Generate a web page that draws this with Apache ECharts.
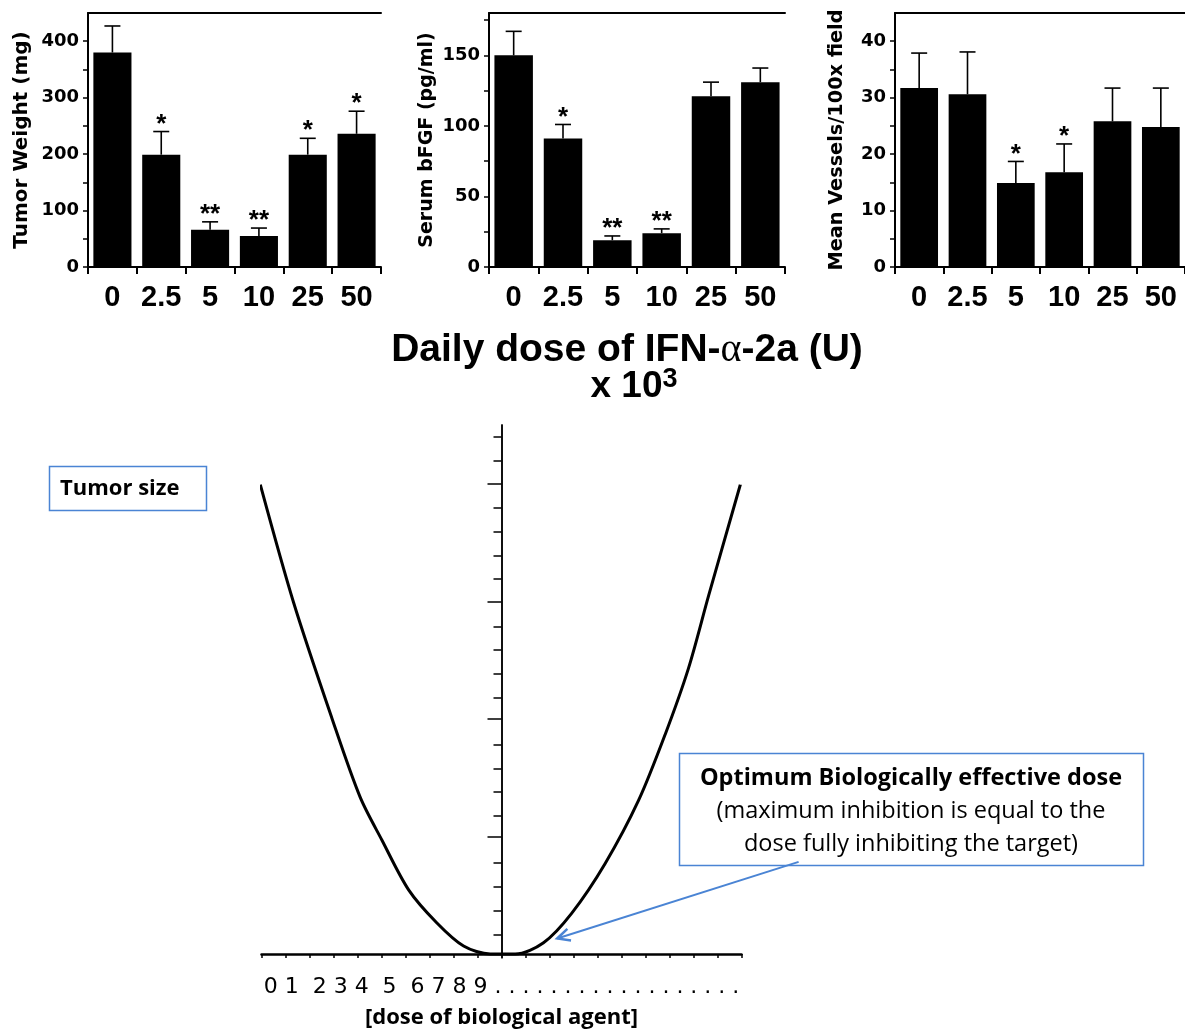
<!DOCTYPE html>
<html><head><meta charset="utf-8">
<script src="https://cdn.jsdelivr.net/npm/echarts@6/dist/echarts.min.js"></script>
<style>html,body{margin:0;padding:0;background:#fff}#c{width:1185px;height:1034px}</style>
</head><body><div id="c"></div>
<script>
// ---- data ----
var doses = ['0', '2.5', '5', '10', '25', '50'];

var tumorWeight    = [380, 199, 66, 55, 199, 236];
var tumorWeightErr = [427, 240, 80, 69, 228, 276];
var tumorWeightSig = ['', '*', '**', '**', '*', '*'];
var tumorLabels = [0, 100, 200, 300, 400];
var tumorTicks  = [0, 50, 100, 150, 200, 250, 300, 350, 400];

var bfgf    = [150, 91, 19, 24, 121, 131];
var bfgfErr = [167, 101, 22, 27, 131, 141];
var bfgfSig = ['', '*', '**', '**', '', ''];
var bfgfLabels = [0, 50, 100, 150];
var bfgfTicks  = [0, 25, 50, 75, 100, 125, 150, 175];

var vessels    = [31.7, 30.6, 14.9, 16.8, 25.8, 24.8];
var vesselsErr = [37.9, 38.1, 18.7, 21.8, 31.7, 31.7];
var vesselsSig = ['', '', '*', '*', '', ''];
var vesselLabels = [0, 10, 20, 30, 40];
var vesselTicks  = [0, 5, 10, 15, 20, 25, 30, 35, 40];

// schematic dose-response curve
var curveX = [-10.05, -8.67, -7.07, -5.89, -4.98, -3.87, -2.69, -1.58, -0.47, 0.0, 0.57, 1.75, 2.93, 4.32, 5.71, 6.82, 7.79, 8.63, 9.95];
var curveY = [19.96, 14.97, 10.04, 6.67, 4.84, 2.73, 1.32, 0.34, 0.0, 0.0, 0.0, 0.48, 1.74, 3.85, 6.53, 9.34, 12.15, 15.24, 19.96];
var bottomMajorTicks = [0, 5, 10, 15, 20];
var bottomMinorTicks = [1, 2, 3, 4, 6, 7, 8, 9, 11, 12, 13, 14, 16, 17, 18, 19, 21, 22];
var bottomTickText = '0 1  2 3 4  5  6 7 8 9 . . . . . . . . . . . . . . . . . .';
var arrowFrom = [12.38, 3.92];
var arrowTo   = [2.32, 0.66];

// ---- build ----
var chart = echarts.init(document.getElementById('c'));
var BLUE = '#4a84d4';

var tops = [
  {left: 88,  width: 293, name: 'Tumor Weight (mg)',       nameSize: 20,   gap: 56, max: 450, labels: tumorLabels,  ticks: tumorTicks,  vals: tumorWeight, errs: tumorWeightErr, sig: tumorWeightSig},
  {left: 489, width: 296, name: 'Serum bFGF (pg/ml)',      nameSize: 19,   gap: 52, max: 180, labels: bfgfLabels,   ticks: bfgfTicks,   vals: bfgf,        errs: bfgfErr,        sig: bfgfSig},
  {left: 895, width: 294, name: 'Mean Vessels/100x field', nameSize: 19.3, gap: 49, max: 45,  labels: vesselLabels, ticks: vesselTicks, vals: vessels,     errs: vesselsErr,     sig: vesselsSig}
];

var grid = [], xAxis = [], yAxis = [], series = [];

function errRender(sig) {
  return function (params, api) {
    var i = api.value(0);
    var p0 = api.coord([i, api.value(1)]);
    var p1 = api.coord([i, api.value(2)]);
    var s = sig[params.dataIndex] || '';
    return {
      type: 'group',
      children: [
        {type: 'line', shape: {x1: p0[0], y1: p0[1], x2: p1[0], y2: p1[1]}, style: {stroke: '#000', lineWidth: 1.6}},
        {type: 'line', shape: {x1: p1[0] - 8, y1: p1[1], x2: p1[0] + 8, y2: p1[1]}, style: {stroke: '#000', lineWidth: 1.6}},
        {type: 'text', x: p1[0], y: p1[1] + 6, style: {text: s, font: 'bold 26px "Liberation Sans"', fill: '#000', align: 'center', verticalAlign: 'bottom'}}
      ]
    };
  };
}

tops.forEach(function (t, k) {
  grid.push({left: t.left, top: 13, width: t.width, height: 254});
  xAxis.push({
    type: 'category', gridIndex: k, data: doses, position: 'bottom', boundaryGap: true,
    axisLine: {lineStyle: {color: '#000', width: 2}},
    axisTick: {show: true, length: 7, alignWithLabel: false, lineStyle: {color: '#000', width: 2}},
    axisLabel: {interval: 0, color: '#000', fontFamily: 'Liberation Sans', fontWeight: 'bold', fontSize: 29, margin: 16},
    splitLine: {show: false}
  });
  xAxis.push({
    type: 'category', gridIndex: k, data: doses, position: 'top',
    axisLine: {onZero: false, lineStyle: {color: '#000', width: 2}},
    axisTick: {show: false}, axisLabel: {show: false}, splitLine: {show: false}
  });
  yAxis.push({
    type: 'value', gridIndex: k, min: 0, max: t.max, interval: t.labels[1] - t.labels[0],
    name: t.name, nameLocation: 'middle', nameRotate: 90, nameGap: t.gap,
    nameTextStyle: {color: '#000', fontFamily: 'DejaVu Sans', fontWeight: 'bold', fontSize: t.nameSize},
    axisLine: {show: true, lineStyle: {color: '#000', width: 2}},
    axisTick: {show: true, length: 5, customValues: t.ticks, lineStyle: {color: '#000', width: 1.5}},
    axisLabel: {customValues: t.labels, color: '#000', fontFamily: 'DejaVu Sans', fontWeight: 'bold', fontSize: 18, margin: 9},
    splitLine: {show: false}
  });
  series.push({
    type: 'bar', xAxisIndex: 2 * k, yAxisIndex: k, data: t.vals, barWidth: '78%',
    itemStyle: {color: '#000'}, silent: true
  });
  series.push({
    type: 'custom', xAxisIndex: 2 * k, yAxisIndex: k, silent: true, z: 3,
    data: t.vals.map(function (v, i) { return [i, v, t.errs[i]]; }),
    renderItem: errRender(t.sig)
  });
});

// bottom schematic: grid 3 (curve, long ticks), grid 4 (same rect, short ticks)
var bRect = {left: 261.5, top: 425, width: 480, height: 533};
grid.push(bRect);
grid.push({left: bRect.left, top: bRect.top, width: bRect.width, height: bRect.height});
xAxis.push({
  type: 'value', gridIndex: 3, min: -10, max: 10, interval: 1,
  axisLine: {onZero: true, lineStyle: {color: '#000', width: 2.5}},
  axisTick: {show: true, length: 4, lineStyle: {color: '#000', width: 1.5}},
  axisLabel: {show: false}, splitLine: {show: false},
  name: '{t|' + bottomTickText + '}\n{b|[dose of biological agent]}',
  nameLocation: 'middle', nameGap: 17,
  nameTextStyle: {
    rich: {
      t: {fontFamily: 'DejaVu Sans', fontSize: 22, color: '#000', lineHeight: 32},
      b: {fontFamily: 'Open Sans', fontWeight: 'bold', fontSize: 22, color: '#000', lineHeight: 30}
    }
  }
});
xAxis.push({type: 'value', gridIndex: 4, min: -10, max: 10, show: false});
yAxis.push({
  type: 'value', gridIndex: 3, min: 0, max: 22.5, position: 'left',
  axisLine: {onZero: true, lineStyle: {color: '#000', width: 1.5}},
  axisTick: {show: true, length: 14, customValues: bottomMajorTicks, lineStyle: {color: '#000', width: 1.5}},
  axisLabel: {show: false}, splitLine: {show: false}
});
yAxis.push({
  type: 'value', gridIndex: 4, min: 0, max: 22.5, position: 'left',
  axisLine: {onZero: true, lineStyle: {color: '#000', width: 1.5}},
  axisTick: {show: true, length: 8, customValues: bottomMinorTicks, lineStyle: {color: '#000', width: 1.5}},
  axisLabel: {show: false}, splitLine: {show: false}
});
series.push({
  type: 'line', xAxisIndex: 6, yAxisIndex: 3, silent: true, clip: false,
  data: curveX.map(function (x, i) { return [x, curveY[i]]; }),
  showSymbol: false, smooth: 0.3, lineStyle: {color: '#000', width: 3}
});
series.push({
  type: 'custom', xAxisIndex: 6, yAxisIndex: 3, silent: true, clip: false, z: 4,
  encode: {x: [0, 2], y: [1, 3]},
  data: [[arrowFrom[0], arrowFrom[1], arrowTo[0], arrowTo[1]]],
  renderItem: function (params, api) {
    var a = api.coord([api.value(0), api.value(1)]);
    var b = api.coord([api.value(2), api.value(3)]);
    var ang = Math.atan2(a[1] - b[1], a[0] - b[0]);
    var L = 14, w = 0.45;
    var c1 = [b[0] + L * Math.cos(ang + w), b[1] + L * Math.sin(ang + w)];
    var c2 = [b[0] + L * Math.cos(ang - w), b[1] + L * Math.sin(ang - w)];
    return {type: 'group', children: [
      {type: 'line', shape: {x1: a[0], y1: a[1], x2: b[0], y2: b[1]}, style: {stroke: BLUE, lineWidth: 2}},
      {type: 'polyline', shape: {points: [c1, b, c2]}, style: {stroke: BLUE, lineWidth: 2.5, fill: null}}
    ]};
  }
});

var option = {
  animation: false,
  backgroundColor: '#fff',
  grid: grid, xAxis: xAxis, yAxis: yAxis, series: series,
  graphic: [
    {type: 'text', x: 627, y: 350, style: {
      text: '{a|Daily dose of IFN-}{al|\u03b1}{a|-2a (U)}', align: 'center', verticalAlign: 'middle',
      rich: {
        a: {fontFamily: 'Liberation Sans', fontWeight: 'bold', fontSize: 39, fill: '#000'},
        al: {fontFamily: 'Liberation Serif', fontSize: 40, fill: '#000'}
      }}},
    {type: 'text', x: 634, y: 387, style: {
      text: '{a|x 10}{s|3}', align: 'center', verticalAlign: 'middle',
      rich: {
        a: {fontFamily: 'Liberation Sans', fontWeight: 'bold', fontSize: 37, fill: '#000', lineHeight: 42},
        s: {fontFamily: 'Liberation Sans', fontWeight: 'bold', fontSize: 27, fill: '#000', verticalAlign: 'top', lineHeight: 42}
      }}},
    {type: 'rect', shape: {x: 49.5, y: 466.5, width: 157, height: 44}, style: {fill: '#fff', stroke: BLUE, lineWidth: 1.5}},
    {type: 'text', x: 60, y: 489, style: {text: 'Tumor size', font: 'bold 22px "Open Sans"', fill: '#000', align: 'left', verticalAlign: 'middle'}},
    {type: 'rect', shape: {x: 679.5, y: 753.5, width: 464, height: 112}, style: {fill: '#fff', stroke: BLUE, lineWidth: 1.5}},
    {type: 'text', x: 911, y: 811, style: {
      text: '{b|Optimum Biologically effective dose}\n{r|(maximum inhibition is equal to the}\n{r|dose fully inhibiting the target)}',
      align: 'center', verticalAlign: 'middle',
      rich: {
        b: {fontFamily: 'Open Sans', fontWeight: 'bold', fontSize: 23.5, fill: '#000', lineHeight: 33},
        r: {fontFamily: 'Open Sans', fontSize: 23.5, fill: '#000', lineHeight: 33}
      }}}
  ]
};
chart.setOption(option);
</script>
</body></html>
